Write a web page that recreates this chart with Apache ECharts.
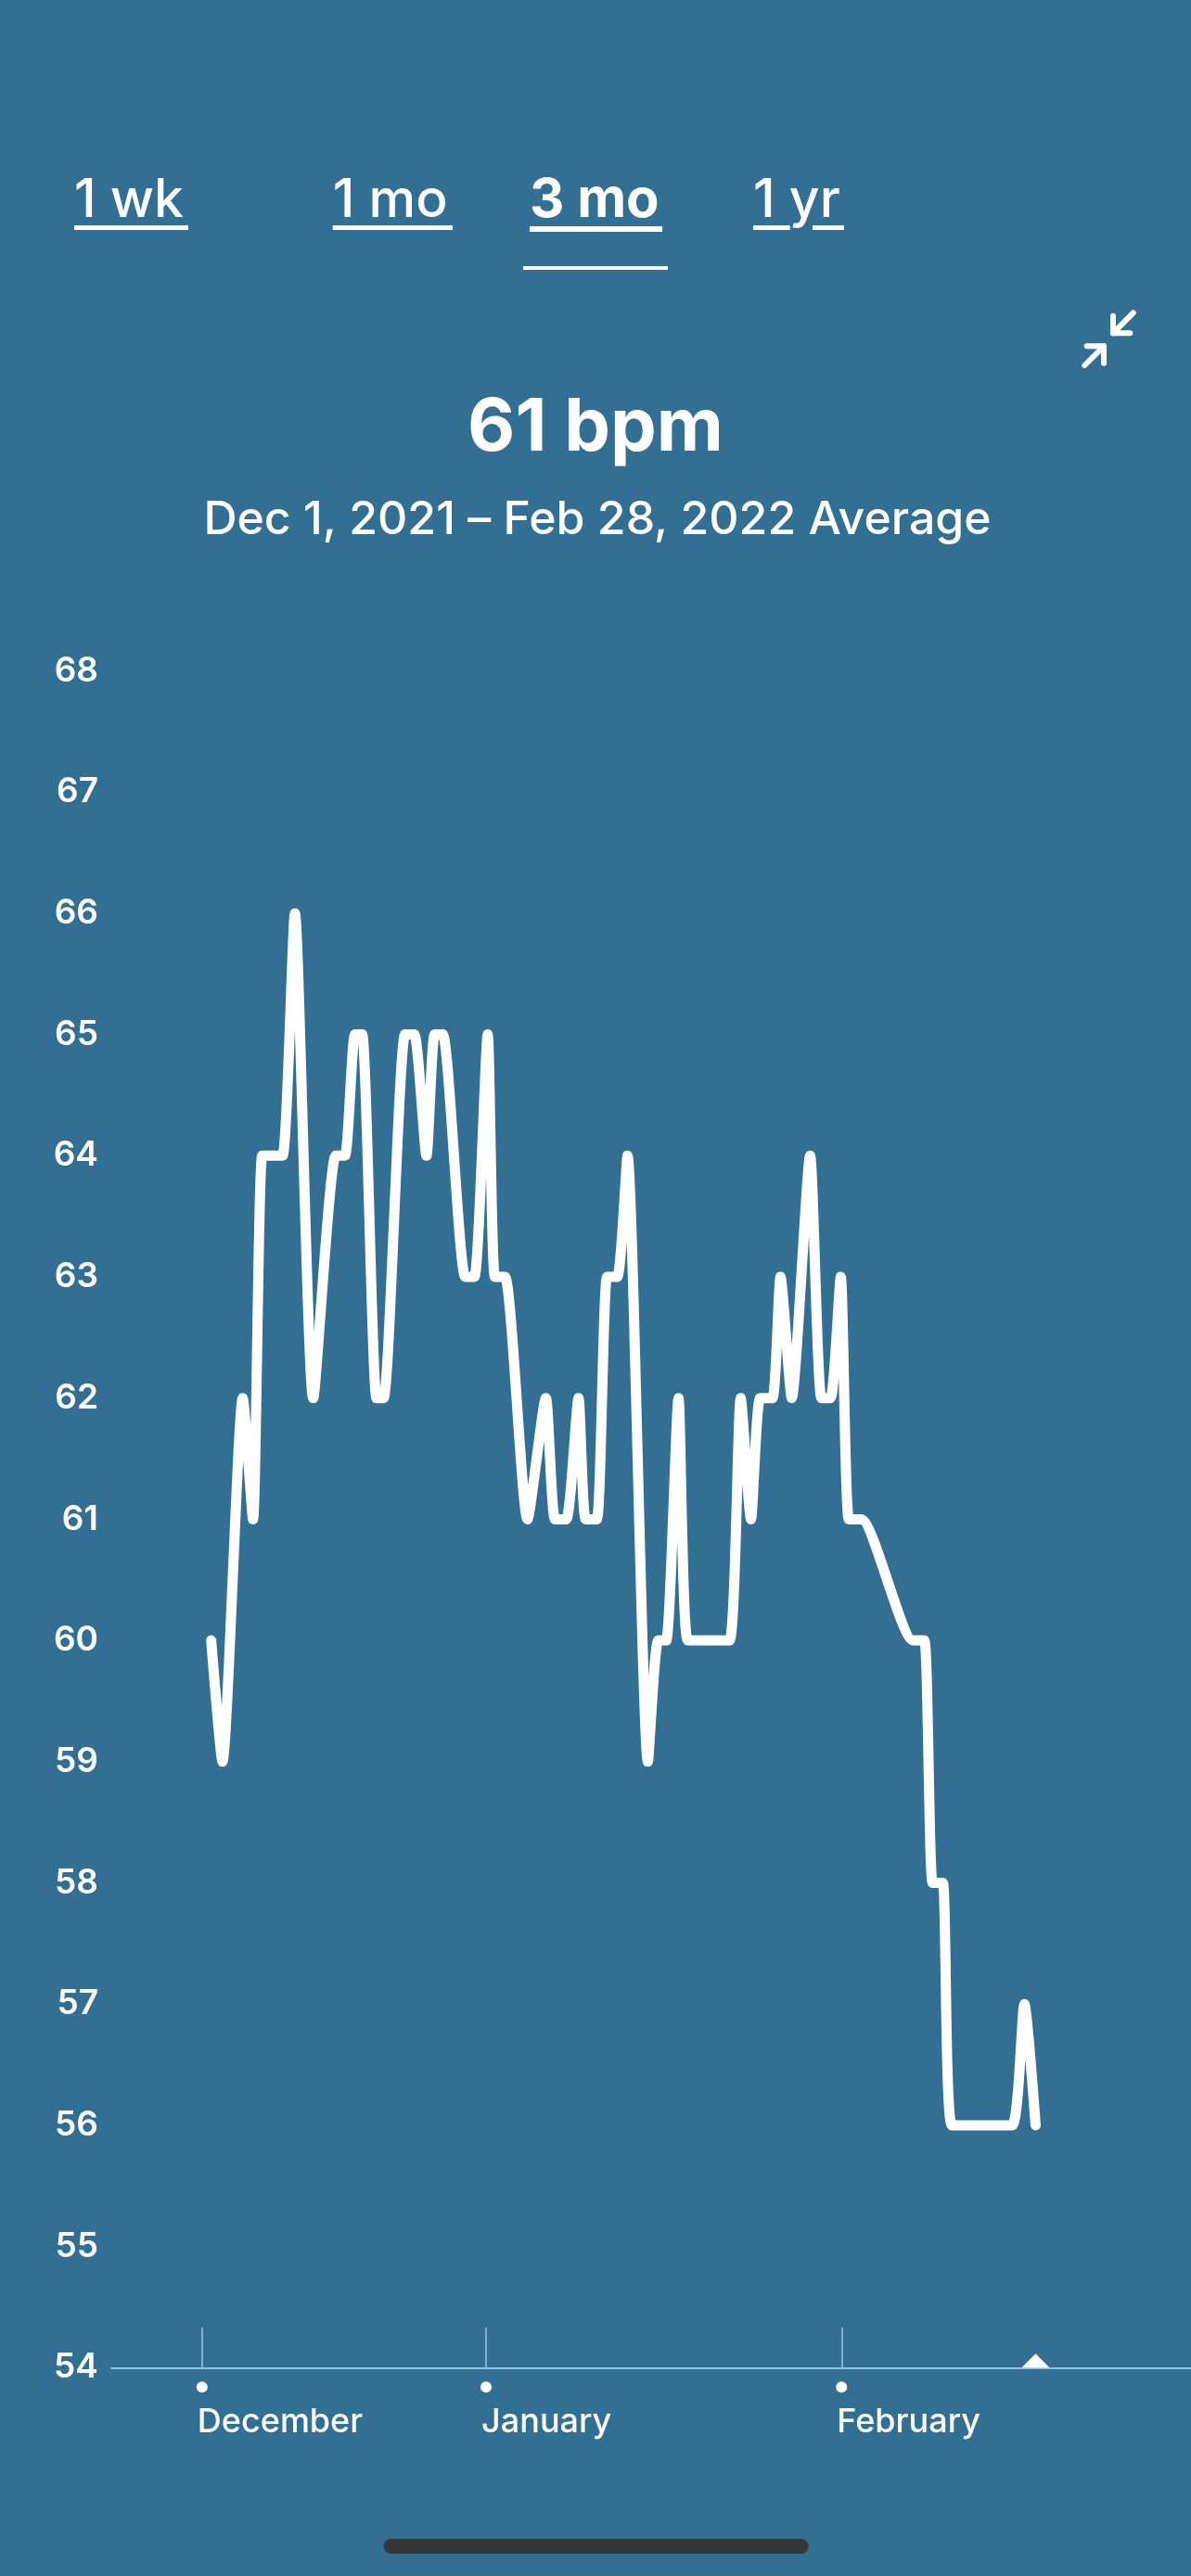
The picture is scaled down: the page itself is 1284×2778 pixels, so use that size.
<!DOCTYPE html>
<html>
<head>
<meta charset="utf-8">
<script src="https://cdn.jsdelivr.net/npm/echarts@6/dist/echarts.min.js"></script>
<style>
html,body{margin:0;padding:0;background:#326f93;}
#chart{width:1284px;height:2778px;}
</style>
</head>
<body>
<div id="chart"></div>
<script>
// ---- data ----
const rangeTabs = ['1 wk', '1 mo', '3 mo', '1 yr'];
const selectedTab = '3 mo';
const headline = '61 bpm';
const subtitle = 'Dec 1, 2021 \u2013 Feb 28, 2022 Average';

const months = ['December', 'January', 'February'];
const monthTickDays = [0, 27.84, 62.68];

// day offset from the December tick (as laid out on the chart)
const days = [0.9,2.0,4.0,5.0,5.9,6.9,7.9,9.1,10.9,13.1,14.0,15.0,15.7,17.1,17.8,19.9,20.8,22.0,22.8,23.6,
  25.8,26.7,28.0,28.7,29.7,31.9,33.7,34.6,35.7,36.9,37.6,38.7,39.7,40.7,41.7,43.7,44.7,45.5,46.7,47.6,
  49.6,51.7,52.8,53.8,54.7,55.9,56.7,57.8,59.6,60.7,61.6,62.6,63.4,64.6,69.7,70.8,71.6,72.6,73.5,76.5,
  79.4,80.6,81.7];
const bpm = [60,59,62,61,64,64,64,66,62,64,64,65,65,62,62,65,65,64,65,65,
  63,63,65,63,63,61,62,61,61,62,61,61,63,63,64,59,60,60,62,60,
  60,60,62,61,62,62,63,62,64,62,62,63,61,61,60,60,58,58,56,56,
  56,57,56];

const yMin = 54, yMax = 68, yStep = 1;
const xMin = -8.89, xMax = 96.93;

// ---- chart ----
const FONT = 'Inter, "Noto Sans", Roboto, sans-serif';
const chart = echarts.init(document.getElementById('chart'), null, {renderer: 'canvas'});

const tabX = [80, 358.7, 571, 812];
const tabGraphics = [];
rangeTabs.forEach((t, i) => {
  const sel = t === selectedTab;
  tabGraphics.push({
    type: 'text', left: tabX[i], top: 188,
    style: {text: t, fill: '#ffffff', font: (sel ? '700 58px ' : '500 57px ') + FONT}
  });
});
const underline = (x, w, y, h) => ({type: 'rect', shape: {x: x, y: y, width: w, height: h}, style: {fill: '#ffffff'}});

const pts = days.map((d, i) => [d, bpm[i]]);
const labelShift = 0.45; // month names start slightly left of their tick
const labelValues = monthTickDays.map(d => d - labelShift);

chart.setOption({
  animation: false,
  backgroundColor: '#326f93',
  grid: {left: 120, right: 0, top: 723.5, bottom: 224.7},
  xAxis: {
    type: 'value', min: xMin, max: xMax,
    axisLine: {show: true, lineStyle: {color: '#8cc3e6', width: 2}},
    axisTick: {show: true, inside: true, length: 43, customValues: monthTickDays,
      lineStyle: {color: '#7db2d4', width: 2}},
    axisLabel: {show: true, customValues: labelValues, align: 'left', margin: 41,
      color: '#ffffff', fontSize: 36, fontWeight: 500, fontFamily: FONT,
      formatter: function (v) {
        let best = 0;
        labelValues.forEach((m, i) => { if (Math.abs(m - v) < Math.abs(labelValues[best] - v)) best = i; });
        return months[best];
      }},
    splitLine: {show: false}
  },
  yAxis: {
    type: 'value', min: yMin, max: yMax, interval: yStep,
    axisLine: {show: false}, axisTick: {show: false}, splitLine: {show: false},
    axisLabel: {color: '#ffffff', fontSize: 37, fontWeight: 600, fontFamily: FONT, margin: 14}
  },
  series: [{
    type: 'line',
    data: pts,
    smooth: 0.2,
    showSymbol: false,
    clip: false,
    lineStyle: {color: '#ffffff', width: 11, cap: 'round', join: 'round'},
    markPoint: {
      silent: true,
      label: {show: false},
      itemStyle: {color: '#ffffff'},
      data: monthTickDays.map(m => ({coord: [m, yMin], symbol: 'circle', symbolSize: 12, symbolOffset: [0, 21]}))
        .concat([{coord: [days[days.length - 1], yMin], symbol: 'triangle', symbolSize: [30, 15], symbolOffset: [0, -7.5]}])
    }
  }],
  graphic: tabGraphics.concat([
    underline(80, 123, 243, 5),
    underline(358.7, 129.3, 243, 5),
    underline(571, 143, 244, 6),
    underline(812, 39.7, 243, 5),
    underline(876, 34, 243, 5),
    underline(564, 156, 287, 4),
    {type: 'polyline', shape: {points: [[1221.7, 337.3], [1200, 359.3]]}, style: {stroke: '#fff', lineWidth: 6, lineCap: 'round', fill: null}},
    {type: 'polyline', shape: {points: [[1200, 340.7], [1200, 359.3], [1218.3, 359.3]]}, style: {stroke: '#fff', lineWidth: 6, lineCap: 'round', lineJoin: 'round', fill: null}},
    {type: 'polyline', shape: {points: [[1169.3, 394], [1190, 373.3]]}, style: {stroke: '#fff', lineWidth: 6, lineCap: 'round', fill: null}},
    {type: 'polyline', shape: {points: [[1171.7, 373.3], [1190, 373.3], [1190, 391.7]]}, style: {stroke: '#fff', lineWidth: 6, lineCap: 'round', lineJoin: 'round', fill: null}},
    {type: 'text', x: 642, y: 462, style: {text: headline, fill: '#ffffff', font: '700 79px ' + FONT, align: 'center', verticalAlign: 'middle'}},
    {type: 'text', x: 644, y: 561, style: {text: subtitle, fill: '#ffffff', font: '500 50px ' + FONT, align: 'center', verticalAlign: 'middle'}},
    {type: 'rect', shape: {x: 413.6, y: 2738, width: 458, height: 16, r: 8}, style: {fill: '#343637'}}
  ])
});
</script>
</body>
</html>
